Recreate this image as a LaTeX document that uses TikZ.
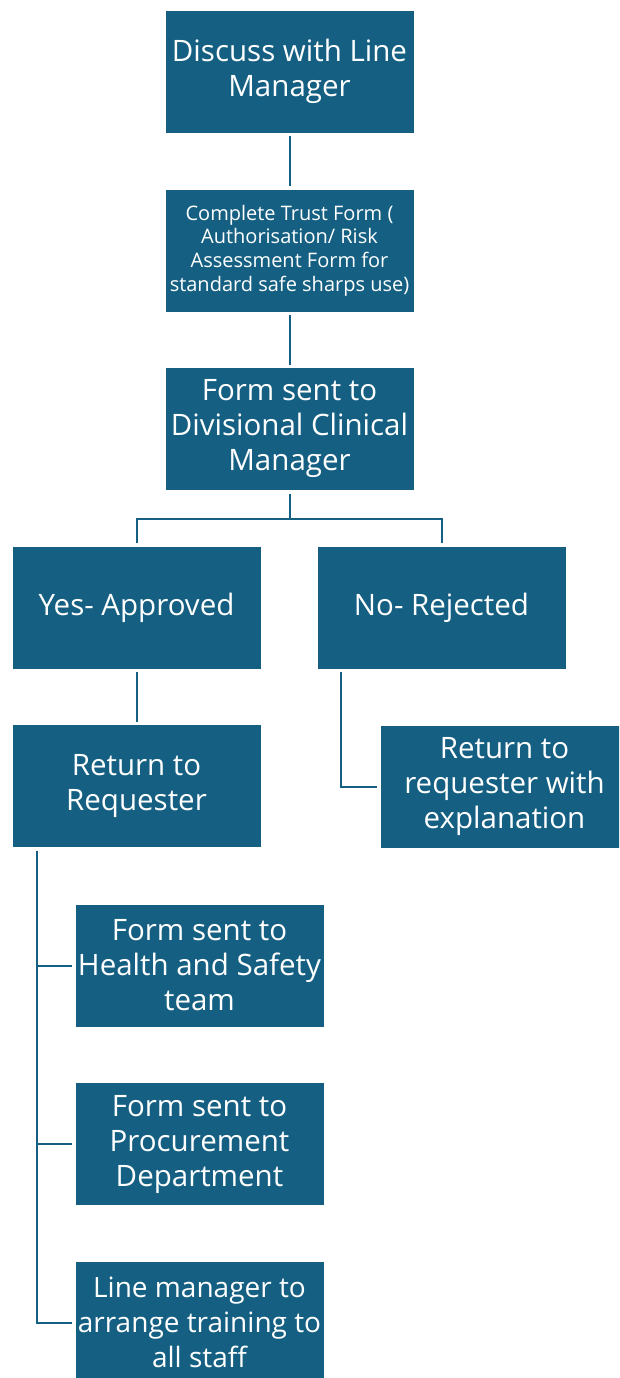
\documentclass[tikz,border=0pt]{standalone}
\usepackage{fontspec}
\setmainfont{Open Sans}
\definecolor{accent}{HTML}{156082}
\tikzset{
  box/.style={fill=accent, draw=white, line width=0.8pt, minimum width=249pt, minimum height=123pt,
    inner xsep=-10pt, inner ysep=0pt, outer sep=3pt, text=white, align=center, font=\fontsize{29.5}{35}\selectfont},
  smalltext/.style={font=\fontsize{20}{23.7}\selectfont},
  tighttext/.style={font=\fontsize{28}{35}\selectfont},
  conn/.style={draw=accent, line width=2pt}
}
\begin{document}
\begin{tikzpicture}[x=1pt,y=-1pt]
\clip (0,0) rectangle (619,1378);
\fill[white] (0,0) rectangle (619,1378);
\node[box] (b1) at (289.5,71.5) {Discuss with Line\\Manager};
\node[box,smalltext] (b2) at (289.5,250.5) {Complete Trust Form (\\Authorisation/ Risk\\Assessment Form for\\standard safe sharps use)};
\node[box] (b3) at (289.5,429) {Form sent to\\Divisional Clinical\\Manager};
\node[box] (b4) at (136.5,607.5) {Yes- Approved};
\node[box] (b5) at (441.5,607.5) {No- Rejected};
\node[box] (b6) at (136.5,786) {Return to\\Requester};
\node[box] (b7) at (504.5,786.5) {Return to\\requester with\\explanation};
\node[box] (b8) at (199.5,965.5) {Form sent to\\Health and Safety\\team};
\node[box] (b9) at (199.5,1144) {Form sent to\\Procurement\\Department};
\node[box,tighttext] (b10) at (199.5,1322.5) {Line manager to\\arrange training to\\all staff};
\draw[conn] (b1.south) -- (b2.north);
\draw[conn] (b2.south) -- (b3.north);
\draw[conn] (b3.south) -- ++(0,25) coordinate (j1) -| (b4.north);
\draw[conn] (j1) -| (b5.north);
\draw[conn] (b4.south) -- (b6.north);
\draw[conn] ([xshift=27pt]b5.south west) |- (b7.west);
\draw[conn] ([xshift=27.5pt]b6.south west) coordinate (j2) |- (b8.west);
\draw[conn] (j2) |- (b9.west);
\draw[conn] (j2) |- (b10.west);
\end{tikzpicture}
\end{document}
